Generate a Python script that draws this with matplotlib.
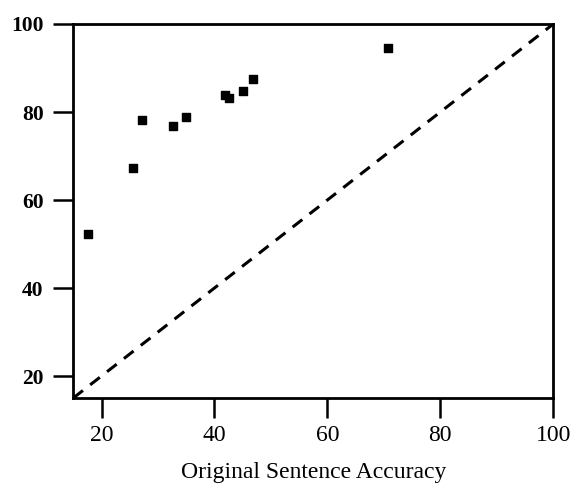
import matplotlib
matplotlib.use("Agg")
import matplotlib.pyplot as plt

original_acc = [17.55, 25.6, 27.1, 32.7, 35.0, 41.85, 42.6, 45.0, 46.75, 70.75]
new_acc = [52.2, 67.3, 78.1, 76.8, 78.8, 83.8, 83.2, 84.7, 87.4, 94.45]
ticks = [20, 40, 60, 80, 100]
xlabel = "Original Sentence Accuracy"

plt.rcParams['font.family'] = ['Liberation Serif', 'DejaVu Serif']

fig = plt.figure(figsize=(5.74, 4.84), dpi=100)
ax = fig.add_axes([73.3/574, 1-398/484, (553.3-73.3)/574, (398-24)/484])

ax.plot([15, 100], [15, 100], linestyle=(0, (4, 3)), color='black', linewidth=2.2)
ax.scatter(original_acc, new_acc, marker='s', s=32, color='black', zorder=3)

ax.set_xlim(15, 100)
ax.set_ylim(15, 100)
ax.set_xticks(ticks)
ax.set_yticks(ticks)
ax.set_xticklabels([str(t) for t in ticks])
ax.set_yticklabels([str(t) for t in ticks])
ax.tick_params(direction='out', length=14.4, width=1.8)
ax.tick_params(axis='x', labelsize=17, pad=5)
ax.tick_params(axis='y', labelsize=15.5, pad=7)
for lab in ax.get_yticklabels():
    lab.set_fontweight('bold')
for sp in ax.spines.values():
    sp.set_linewidth(2.0)
ax.set_xlabel(xlabel, fontsize=17, labelpad=11.5)

fig.savefig("out.png", dpi=100)
